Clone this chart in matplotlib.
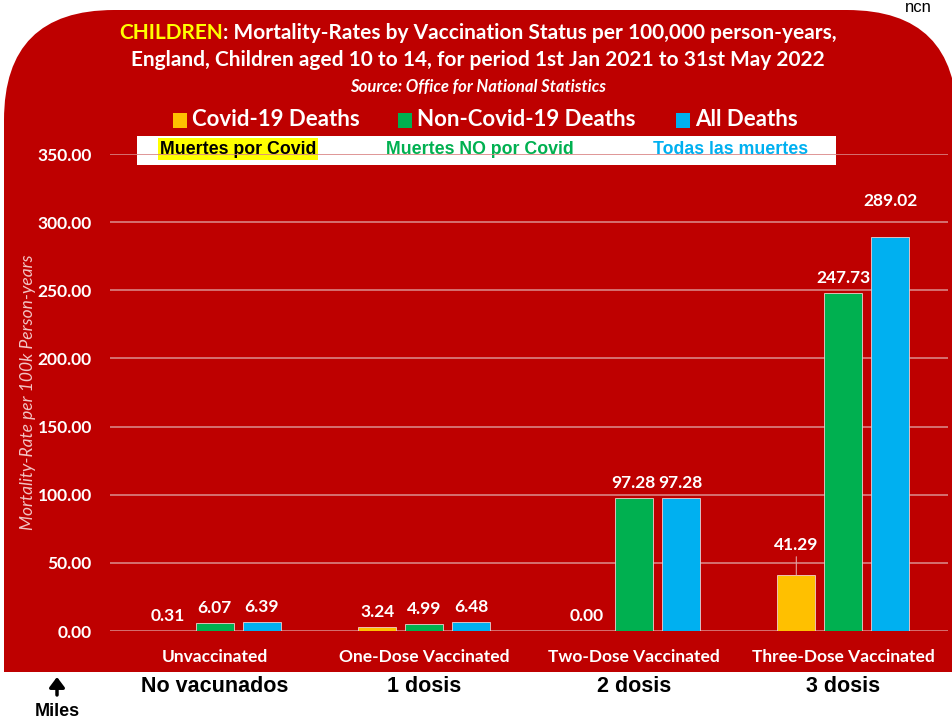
import matplotlib.pyplot as plt
import numpy as np
from matplotlib.patches import FancyBboxPatch, Rectangle

# data
categories = ['Unvaccinated', 'One-Dose Vaccinated', 'Two-Dose Vaccinated', 'Three-Dose Vaccinated']
spanish = ['No vacunados', '1 dosis', '2 dosis', '3 dosis']
covid = [0.31, 3.24, 0.00, 41.29]
non_covid = [6.07, 4.99, 97.28, 247.73]
all_deaths = [6.39, 6.48, 97.28, 289.02]
series_names = ['Covid-19 Deaths', 'Non-Covid-19 Deaths', 'All Deaths']
spanish_names = ['Muertes por Covid', 'Muertes NO por Covid', 'Todas las muertes']

RED = '#BE0000'
ORANGE = '#FFC000'
GREEN = '#00B050'
BLUE = '#00B0F0'
GRID = '#D98484'

fig = plt.figure(figsize=(9.53, 7.19), dpi=100)
fig.patch.set_facecolor('white')

# background axes in pixel coordinates
bg = fig.add_axes([0, 0, 1, 1])
bg.set_xlim(0, 953)
bg.set_ylim(719, 0)
bg.axis('off')
bg.add_patch(FancyBboxPatch((4, 10), 953, 662, boxstyle='round,pad=0,rounding_size=110',
                            fc=RED, ec='none'))
bg.add_patch(Rectangle((4, 300), 953, 372, fc=RED, ec='none'))

cal = 'Lato'
narrow = ['Liberation Sans', 'DejaVu Sans']

# title
t1 = bg.text(119, 33, 'CHILDREN', color='#FFFF00', fontsize=15, fontweight='bold', family=cal,
             ha='left', va='center')
bg.annotate(': Mortality-Rates by Vaccination Status per 100,000 person-years,', xy=(1, 0.5),
            xycoords=t1, color='white', fontsize=15, fontweight='bold', family=cal,
            ha='left', va='center')
bg.text(478, 60, 'England, Children aged 10 to 14, for period 1st Jan 2021 to 31st May 2022',
        color='white', fontsize=15, fontweight='bold', family=cal, ha='center', va='center')
bg.text(478, 87, 'Source: Office for National Statistics', color='white', fontsize=12,
        fontweight='bold', style='italic', family=cal, ha='center', va='center')

# legend row
colors = [ORANGE, GREEN, BLUE]
leg_x = [173, 398, 676]
for x, c, name in zip(leg_x, colors, series_names):
    bg.add_patch(Rectangle((x, 113), 14, 15, fc=c, ec='none'))
    bg.text(x + 19, 120, name, color='white', fontsize=16, fontweight='bold', family=cal,
            va='center', ha='left')

# spanish box
bg.add_patch(Rectangle((137, 136), 699, 29, fc='white', ec='none'))
sp_x = [238, 480, 731]
sp_colors = ['black', GREEN, BLUE]
for x, c, name in zip(sp_x, sp_colors, spanish_names):
    kw = {}
    if c == 'black':
        kw['bbox'] = dict(fc='#FFFF00', ec='none', pad=1.5)
    bg.text(x, 149, name, color=c, fontsize=12.8, fontweight='bold', family=narrow,
            ha='center', va='center', **kw)

# main chart
ax = fig.add_axes([110 / 953, 1 - 631 / 719, 838 / 953, (631 - 154) / 719])
ax.set_facecolor('none')
x = np.arange(len(categories))
w = 0.18
off = 0.224
b1 = ax.bar(x - off, covid, w, color=ORANGE, edgecolor='#F0D0D0', linewidth=0.6, zorder=3)
b2 = ax.bar(x, non_covid, w, color=GREEN, edgecolor='#F0D0D0', linewidth=0.6, zorder=3)
b3 = ax.bar(x + off, all_deaths, w, color=BLUE, edgecolor='#F0D0D0', linewidth=0.6, zorder=3)
b1[0].set_facecolor('#E8A0A0')

ax.set_xlim(-0.5, 3.5)
ax.set_ylim(0, 350)
ax.set_yticks(np.arange(0, 351, 50))
ax.yaxis.set_major_formatter(plt.FormatStrFormatter('%.2f'))
ax.grid(axis='y', color=GRID, linewidth=1.2, zorder=0)
for s in ax.spines.values():
    s.set_visible(False)
ax.tick_params(axis='y', length=0, colors='white', labelsize=12.5, pad=13)
for lab in ax.get_yticklabels():
    lab.set_fontweight('bold')
    lab.set_family(cal)
ax.set_xticks(x)
ax.set_xticklabels(categories, family=cal, fontsize=12.5, fontweight='bold')
ax.tick_params(axis='x', length=0, colors='white', pad=13)
ax.set_ylabel('Mortality-Rate per 100k Person-years', color='#F2C4C4', style='italic',
              fontsize=12.5, family=cal)
ax.yaxis.set_label_coords(-0.088, 0.5)

# value labels (extra pixel lift for two labels)
lift = {(3, 2): 21, (3, 0): 15}
for si, (bars, vals) in enumerate(zip([b1, b2, b3], [covid, non_covid, all_deaths])):
    for ci, (bar, v) in enumerate(zip(bars, vals)):
        extra = lift.get((ci, si), 0)
        cx = bar.get_x() + bar.get_width() / 2
        ax.annotate(f'{v:.2f}', (cx, v), xytext=(0, 15 + extra), textcoords='offset pixels',
                    ha='center', va='center', color='white', fontsize=12.5, fontweight='bold',
                    family=cal, zorder=4)
# leader line for 41.29
ax.annotate('', (x[3] - off, covid[3]), xytext=(0, 18), textcoords='offset pixels',
            xycoords='data', arrowprops=dict(arrowstyle='-', color='#E0A0A0', lw=0.8,
                                             shrinkA=0, shrinkB=0))

# spanish category labels below
for xi, s in zip(x, spanish):
    bg.text(215 + xi * 209.5, 686, s, color='black', fontsize=15.5, fontweight='bold',
            family=narrow, ha='center', va='center')
bg.annotate('', (57, 677), xytext=(57, 695),
            arrowprops=dict(arrowstyle='-|>,head_width=0.45,head_length=0.6', color='black',
                            lw=2.5, shrinkA=0, shrinkB=0))
bg.text(57, 711, 'Miles', color='black', fontsize=13, fontweight='bold', family=narrow,
        ha='center', va='center')
bg.text(905, 7, 'ncn', color='black', fontsize=12, family=narrow, ha='left', va='center')

fig.savefig('out.png', dpi=100)
